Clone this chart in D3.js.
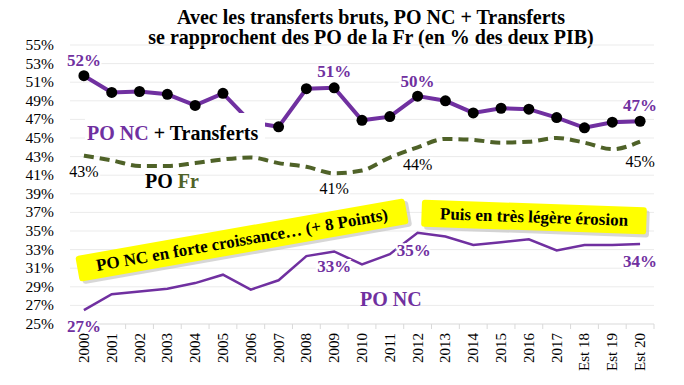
<!DOCTYPE html>
<html>
<head>
<meta charset="utf-8">
<script src="https://cdn.jsdelivr.net/npm/d3@7"></script>
<style>
  body { margin: 0; background: #fff; }
</style>
</head>
<body>
<div id="chart"></div>
<script>
// categories (years)
const years = ["2000","2001","2002","2003","2004","2005","2006","2007","2008","2009","2010",
  "2011","2012","2013","2014","2015","2016","2017","Est 18","Est 19","Est 20"];

// PO NC + Transferts (% PIB)
const poNcTransferts = [51.7, 49.9, 50.0, 49.7, 48.5, 49.8, 46.7, 46.2, 50.3, 50.4, 46.9,
  47.3, 49.5, 49.0, 47.7, 48.2, 48.1, 47.2, 46.1, 46.7, 46.8];

// PO Fr (% PIB)
const poFr = [43.1, 42.6, 42.0, 42.0, 42.3, 42.7, 42.9, 42.3, 41.9, 41.2, 41.5,
  42.9, 44.0, 44.9, 44.8, 44.5, 44.6, 45.0, 44.5, 43.8, 44.6];

// PO NC (% PIB)
const poNc = [26.5, 28.2, 28.5, 28.8, 29.4, 30.3, 28.7, 29.7, 32.3, 32.8, 31.4,
  32.5, 34.8, 34.4, 33.5, 33.8, 34.1, 32.9, 33.5, 33.5, 33.6];

const yTicks = d3.range(25, 56, 2);

const W = 684, H = 385;
const margin = {top: 45, right: 30, bottom: 61, left: 70};

const svg = d3.select("#chart").append("svg")
  .attr("width", W).attr("height", H)
  .style("font-family", "'Liberation Serif', 'Times New Roman', serif");

const x = d3.scalePoint()
  .domain(years)
  .range([margin.left, W - margin.right])
  .padding(0.5);

const y = d3.scaleLinear()
  .domain([25, 55])
  .range([H - margin.bottom, margin.top]);

const purple = "#7030a0";
const olive = "#4f6228";

// title
const title = svg.append("text")
  .attr("x", 371).attr("y", 24)
  .attr("text-anchor", "middle")
  .attr("font-weight", "bold").attr("font-size", 20);
title.append("tspan").attr("x", 371).attr("dy", 0).text("Avec les transferts bruts, PO NC + Transferts");
title.append("tspan").attr("x", 371).attr("dy", 20).text("se rapprochent des PO de la Fr (en % des deux PIB)");

// gridlines
svg.append("g")
  .selectAll("line")
  .data(yTicks.slice(1))
  .join("line")
    .attr("x1", margin.left).attr("x2", W - margin.right)
    .attr("y1", d => y(d)).attr("y2", d => y(d))
    .attr("stroke", "#ebebeb").attr("stroke-width", 1);

// y axis labels
svg.append("g")
  .selectAll("text")
  .data(yTicks)
  .join("text")
    .attr("x", 54)
    .attr("y", d => y(d) + 5)
    .attr("text-anchor", "end")
    .attr("font-size", 15.5)
    .text(d => d + "%");

// x axis
const xAxis = svg.append("g")
  .attr("transform", `translate(0,${y(25)})`);
xAxis.append("line")
  .attr("x1", margin.left).attr("x2", W - margin.right)
  .attr("stroke", "#d9d9d9");
const step = x.step();
xAxis.selectAll("line.tick")
  .data(d3.range(years.length + 1))
  .join("line")
    .attr("class", "tick")
    .attr("x1", i => margin.left + i * step).attr("x2", i => margin.left + i * step)
    .attr("y1", 0).attr("y2", 5)
    .attr("stroke", "#d9d9d9");
xAxis.selectAll("text")
  .data(years)
  .join("text")
    .attr("transform", d => `translate(${x(d) + 5},9) rotate(-90)`)
    .attr("text-anchor", "end")
    .attr("font-size", 15)
    .text(d => d);

// yellow annotation boxes
function noteBox(cx, cy, w, h, angle, label) {
  const g = svg.append("g").attr("transform", `translate(${cx},${cy}) rotate(${angle})`);
  g.append("rect")
    .attr("x", -w / 2 + 3).attr("y", -h / 2 + 3).attr("width", w).attr("height", h)
    .attr("rx", 3).attr("fill", "#bdbdbd").attr("opacity", 0.6);
  g.append("rect")
    .attr("x", -w / 2).attr("y", -h / 2).attr("width", w).attr("height", h)
    .attr("rx", 3).attr("fill", "#ffff00");
  g.append("text")
    .attr("text-anchor", "middle").attr("y", 5.5)
    .attr("font-weight", "bold").attr("font-size", 17)
    .text(label);
}
noteBox(242, 240, 334, 26, -10, "PO NC en forte croissance… (+ 8 Points)");
noteBox(534, 217, 225, 27, 2, "Puis en très légère érosion");

// lines
svg.append("path")
  .datum(poFr)
  .attr("fill", "none")
  .attr("stroke", olive)
  .attr("stroke-width", 4)
  .attr("stroke-dasharray", "10,6")
  .attr("d", d3.line().x((d, i) => x(years[i])).y(d => y(d)).curve(d3.curveMonotoneX));

svg.append("path")
  .datum(poNc)
  .attr("fill", "none")
  .attr("stroke", purple)
  .attr("stroke-width", 2.5)
  .attr("d", d3.line().x((d, i) => x(years[i])).y(d => y(d)));

svg.append("path")
  .datum(poNcTransferts)
  .attr("fill", "none")
  .attr("stroke", purple)
  .attr("stroke-width", 4)
  .attr("d", d3.line().x((d, i) => x(years[i])).y(d => y(d)));

svg.append("g")
  .selectAll("circle")
  .data(poNcTransferts)
  .join("circle")
    .attr("cx", (d, i) => x(years[i]))
    .attr("cy", d => y(d))
    .attr("r", 5.5)
    .attr("fill", "#000");

// series labels
svg.append("rect")
  .attr("x", 85).attr("y", 113).attr("width", 180).attr("height", 32)
  .attr("fill", "#fff");
const lab1 = svg.append("text")
  .attr("x", 87).attr("y", 140)
  .attr("font-weight", "bold").attr("font-size", 20);
lab1.append("tspan").attr("fill", purple).text("PO NC");
lab1.append("tspan").attr("fill", "#000").text(" + Transferts");

const lab2 = svg.append("text")
  .attr("x", 145).attr("y", 188)
  .attr("font-weight", "bold").attr("font-size", 20);
lab2.append("tspan").attr("fill", "#000").text("PO ");
lab2.append("tspan").attr("fill", olive).text("Fr");

svg.append("text")
  .attr("x", 360).attr("y", 306)
  .attr("fill", purple)
  .attr("font-weight", "bold").attr("font-size", 20)
  .text("PO NC");

// value labels
const valueLabels = [
  {s: poNcTransferts, i: 0, dy: -10, txt: "52%", bold: true, col: purple},
  {s: poNcTransferts, i: 9, dy: -11, txt: "51%", bold: true, col: purple},
  {s: poNcTransferts, i: 12, dy: -9, txt: "50%", bold: true, col: purple},
  {s: poNcTransferts, i: 20, dy: -10, txt: "47%", bold: true, col: purple},
  {s: poFr, i: 0, dy: 21, txt: "43%", bold: false, col: "#000"},
  {s: poFr, i: 9, dy: 21, txt: "41%", bold: false, col: "#000"},
  {s: poFr, i: 12, dy: 23, txt: "44%", bold: false, col: "#000"},
  {s: poFr, i: 20, dy: 25, txt: "45%", bold: false, col: "#000"},
  {s: poNc, i: 0, dy: 22, txt: "27%", bold: true, col: purple},
  {s: poNc, i: 9, dy: 21, txt: "33%", bold: true, col: purple},
  {s: poNc, i: 11, dx: 24, dy: 2, txt: "35%", bold: true, col: purple},
  {s: poNc, i: 20, dy: 23, txt: "34%", bold: true, col: purple}
];
svg.append("g")
  .selectAll("text")
  .data(valueLabels)
  .join("text")
    .attr("x", d => x(years[d.i]) + (d.dx || 0))
    .attr("y", d => y(d.s[d.i]) + d.dy)
    .attr("text-anchor", "middle")
    .attr("fill", d => d.col)
    .attr("stroke", "#fff").attr("stroke-width", 4)
    .attr("paint-order", "stroke")
    .attr("font-weight", d => d.bold ? "bold" : "normal")
    .attr("font-size", d => d.bold ? 17 : 16)
    .text(d => d.txt);
</script>
</body>
</html>
